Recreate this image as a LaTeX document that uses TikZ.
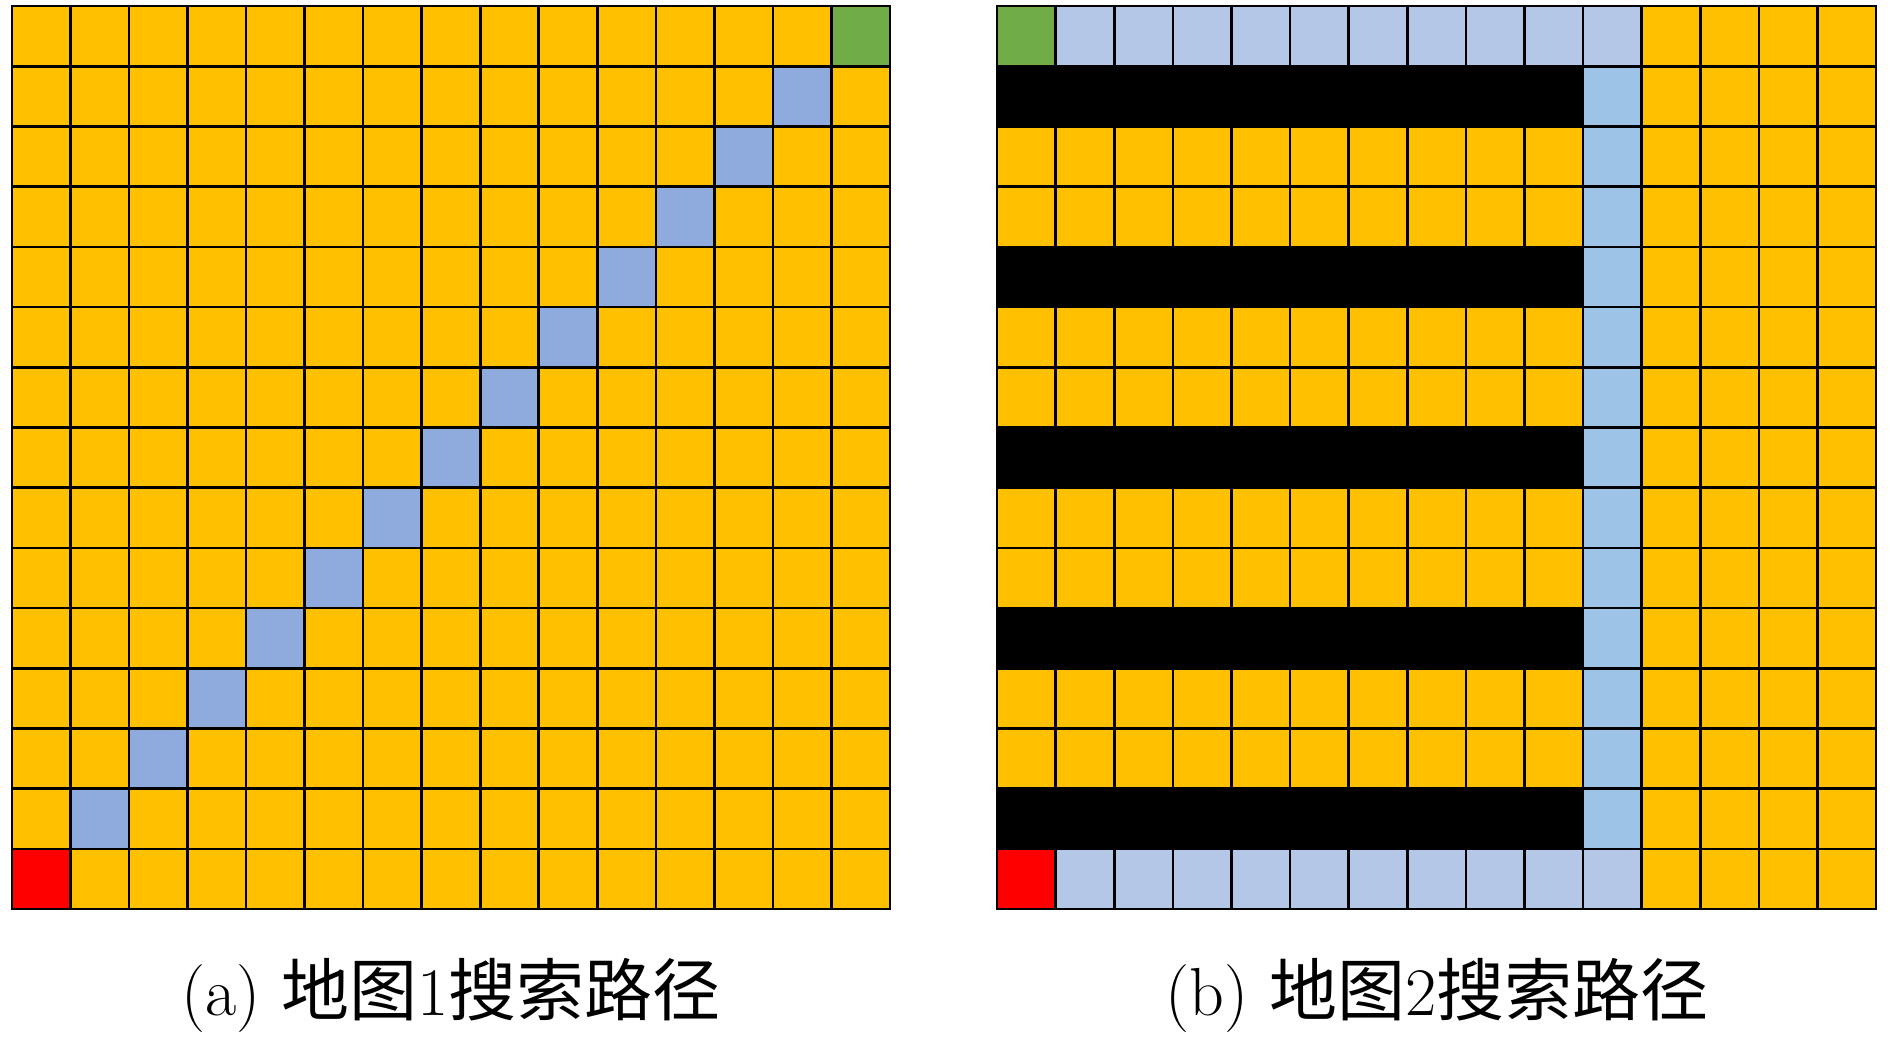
\documentclass[tikz,border=0pt]{standalone}
\usepackage{fontspec}
\newfontfamily\cjk{Noto Sans CJK SC}
\definecolor{yel}{HTML}{FFC000}
\definecolor{grn}{HTML}{70AD47}
\definecolor{redc}{HTML}{FF0000}
\definecolor{blu}{HTML}{8FAADC}
\definecolor{lblu}{HTML}{B4C7E7}
\definecolor{cblu}{HTML}{9DC3E6}
\tikzset{gridline/.style={draw=black,line width=2.6pt,line cap=rect},
  caption/.style={anchor=base,inner sep=0pt,font=\fontsize{68}{80}\selectfont}}
\begin{document}
\begin{tikzpicture}[x=1pt,y=-1pt]
\useasboundingbox[fill=white] (0,0) rectangle (1890,1039);
% ---------- left grid ----------
\def\ax{12}\def\ay{6}\def\acw{58.53}\def\ach{60.2}
\fill[yel] (\ax,\ay) rectangle ++(878,903);
\fill[grn] ({\ax+14*\acw},\ay) rectangle ++(\acw,\ach);
\fill[redc] (\ax,{\ay+14*\ach}) rectangle ++(\acw,\ach);
\foreach \r in {1,...,13}
  \fill[blu] ({\ax+(14-\r)*\acw},{\ay+\r*\ach}) rectangle ++(\acw,\ach);
\foreach \i in {0,...,15}{
  \draw[gridline] ({\ax+\i*\acw},\ay) -- ++(0,903);
  \draw[gridline] (\ax,{\ay+\i*\ach}) -- ++(878,0);
}
% ---------- right grid ----------
\def\bx{997}\def\bcw{58.6}
\fill[yel] (\bx,\ay) rectangle ++(879,903);
\fill[grn] (\bx,\ay) rectangle ++(\bcw,\ach);
\fill[redc] (\bx,{\ay+14*\ach}) rectangle ++(\bcw,\ach);
\foreach \c in {1,...,10}{
  \fill[lblu] ({\bx+\c*\bcw},\ay) rectangle ++(\bcw,\ach);
  \fill[lblu] ({\bx+\c*\bcw},{\ay+14*\ach}) rectangle ++(\bcw,\ach);
}
\foreach \r in {1,...,13}
  \fill[cblu] ({\bx+10*\bcw},{\ay+\r*\ach}) rectangle ++(\bcw,\ach);
\foreach \i in {0,...,15}{
  \draw[gridline] ({\bx+\i*\bcw},\ay) -- ++(0,903);
  \draw[gridline] (\bx,{\ay+\i*\ach}) -- ++(879,0);
}
\foreach \r in {1,4,7,10,13}
  \fill[black] (\bx,{\ay+\r*\ach}) rectangle ++({10*\bcw},\ach);
% ---------- captions ----------
\node[caption] (capa) at (451,1015) {(a) {\cjk 地图}1{\cjk 搜索路径}};
\node[caption] (capb) at (1437,1015) {(b) {\cjk 地图}2{\cjk 搜索路径}};
\end{tikzpicture}
\end{document}
